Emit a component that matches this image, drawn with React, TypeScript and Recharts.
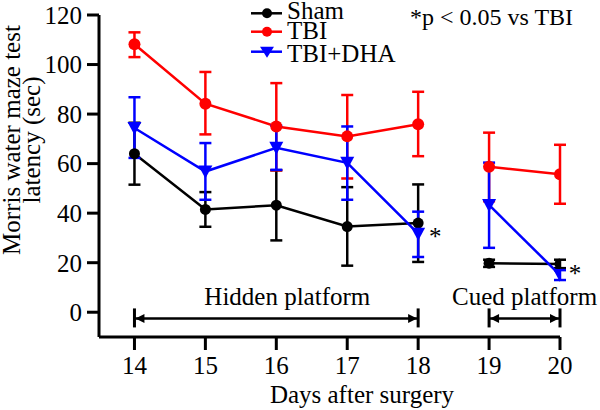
import React from 'react';
import { LineChart, Line, XAxis, YAxis, ErrorBar, ReferenceLine, ReferenceDot } from 'recharts';

const days = [14, 15, 16, 17, 18, 19, 20];
const xTicks = [14, 15, 16, 17, 18, 19, 20];
const yTicks = [0, 20, 40, 60, 80, 100, 120];

const sham = [64, 41.5, 43.2, 34.6, 36, 19.8, 19.5];
const shamLow = [51.5, 34.5, 29, 18.8, 20.3, 18.3, 17.8];
const shamHigh = [76.5, 48.5, 57.3, 50.5, 51.6, 21.2, 21.2];

const tbi = [108.2, 84.2, 75, 71, 75.9, 58.7, 55.7];
const tbiLow = [103, 71.8, 57.3, 54, 63, 44.8, 43.8];
const tbiHigh = [113, 97, 92.5, 87.7, 89, 72.5, 67.6];

const dha = [74.4, 56.8, 66.4, 60.3, 31.7, 43.3, 15];
const dhaLow = [62.3, 45.4, 57.5, 45.4, 22.3, 26, 13];
const dhaHigh = [86.8, 68.3, 75.3, 75, 40.6, 60.4, 17];

const hiddenDays = [14, 18];
const cuedDays = [19, 20];
const starPoints = [
  { day: 18, value: 31.7 },
  { day: 20, value: 15 },
];

const FONT = '"Liberation Serif", "Times New Roman", serif';
const BLACK = '#000000';
const RED = '#ff0000';
const BLUE = '#0000ff';

const inPhase = (d: number, range: number[]) => d >= range[0] && d <= range[1];

const data = days.map((d, i) => {
  const row: any = { day: d };
  const series: [string, number[], number[], number[]][] = [
    ['sham', sham, shamLow, shamHigh],
    ['tbi', tbi, tbiLow, tbiHigh],
    ['dha', dha, dhaLow, dhaHigh],
  ];
  series.forEach(([k, v, lo, hi]) => {
    const err = [v[i] - lo[i], hi[i] - v[i]];
    if (inPhase(d, hiddenDays)) {
      row[k + 'H'] = v[i];
      row[k + 'HErr'] = err;
    } else {
      row[k + 'H'] = null;
    }
    if (inPhase(d, cuedDays)) {
      row[k + 'C'] = v[i];
      row[k + 'CErr'] = err;
    } else {
      row[k + 'C'] = null;
    }
  });
  return row;
});

const circleDot = (color: string, r: number) => (p: any) => {
  if (p.value == null || p.cy == null || isNaN(p.cy)) return <g key={p.key} />;
  return <circle key={p.key} cx={p.cx} cy={p.cy} r={r} fill={color} stroke="none" />;
};

const triDot = (color: string) => (p: any) => {
  if (p.value == null || p.cy == null || isNaN(p.cy)) return <g key={p.key} />;
  const { cx, cy } = p;
  return (
    <polygon
      key={p.key}
      points={`${cx - 7},${cy - 6} ${cx + 7},${cy - 6} ${cx},${cy + 7}`}
      fill={color}
      stroke="none"
    />
  );
};

const arrowShape = (label: string, labelDx: number) => (p: any) => {
  const { x1, y1, x2 } = p;
  const y = y1;
  return (
    <g>
      <line x1={x1} y1={y} x2={x2} y2={y} stroke={BLACK} strokeWidth={2.5} />
      <line x1={x1} y1={y - 10} x2={x1} y2={y + 9} stroke={BLACK} strokeWidth={3} />
      <line x1={x2} y1={y - 10} x2={x2} y2={y + 9} stroke={BLACK} strokeWidth={3} />
      <polygon points={`${x1 + 1},${y} ${x1 + 10},${y - 4.5} ${x1 + 10},${y + 4.5}`} fill={BLACK} />
      <polygon points={`${x2 - 1},${y} ${x2 - 10},${y - 4.5} ${x2 - 10},${y + 4.5}`} fill={BLACK} />
      <text
        x={(x1 + x2) / 2 + labelDx}
        y={y - 13}
        textAnchor="middle"
        fontSize={25}
        fontFamily={FONT}
        fill={BLACK}
      >
        {label}
      </text>
    </g>
  );
};

const starShape = (dx: number, dy: number) => (p: any) => (
  <text x={p.cx + dx} y={p.cy + dy} textAnchor="middle" fontSize={25} fontFamily={FONT} fill={BLACK}>
    *
  </text>
);

const XTick = (p: any) => (
  <text x={p.x} y={p.y} dy={22} textAnchor="middle" fontSize={25} fontFamily={FONT} fill={BLACK}>
    {p.payload.value}
  </text>
);

const legendItems = [
  { name: 'Sham', color: BLACK, shape: 'circle', ly: 13.3, ty: 18.5 },
  { name: 'TBI', color: RED, shape: 'circle', ly: 31.7, ty: 39 },
  { name: 'TBI+DHA', color: BLUE, shape: 'tri', ly: 51.7, ty: 61.5 },
];

export default function App() {
  const errW = 6;
  return (
    <div style={{ position: 'absolute', left: 0, top: 0, width: 600, height: 410, background: '#fff' }}>
      <LineChart
        width={600}
        height={410}
        data={data}
        margin={{ top: 15, right: 40, bottom: 0, left: 0 }}
      >
        <XAxis
          dataKey="day"
          type="number"
          domain={[13.5, 20]}
          ticks={xTicks}
          allowDataOverflow
          height={73}
          tickSize={13}
          tick={<XTick />}
          axisLine={{ stroke: BLACK, strokeWidth: 3 }}
          tickLine={{ stroke: BLACK, strokeWidth: 3 }}
        />
        <YAxis
          type="number"
          domain={[-10, 120]}
          ticks={yTicks}
          allowDataOverflow
          width={99}
          tickSize={12}
          tickMargin={5}
          tick={{ fontSize: 25, fontFamily: FONT, fill: BLACK }}
          axisLine={{ stroke: BLACK, strokeWidth: 3 }}
          tickLine={{ stroke: BLACK, strokeWidth: 3 }}
        />
        <ReferenceLine
          segment={[{ x: 14, y: -2.5 }, { x: 18, y: -2.5 }]}
          shape={arrowShape('Hidden platform', 11)}
        />
        <ReferenceLine
          segment={[{ x: 19, y: -2.5 }, { x: 20, y: -2.5 }]}
          shape={arrowShape('Cued platform', 0)}
        />

        <Line dataKey="shamH" stroke={BLACK} strokeWidth={2.5} dot={circleDot(BLACK, 5.5)} isAnimationActive={false}>
          <ErrorBar dataKey="shamHErr" width={errW} stroke={BLACK} strokeWidth={2.5} direction="y" />
        </Line>
        <Line dataKey="shamC" stroke={BLACK} strokeWidth={2.5} dot={circleDot(BLACK, 5.5)} isAnimationActive={false}>
          <ErrorBar dataKey="shamCErr" width={errW} stroke={BLACK} strokeWidth={2.5} direction="y" />
        </Line>
        <Line dataKey="tbiH" stroke={RED} strokeWidth={2.5} dot={circleDot(RED, 6)} isAnimationActive={false}>
          <ErrorBar dataKey="tbiHErr" width={errW} stroke={RED} strokeWidth={2.5} direction="y" />
        </Line>
        <Line dataKey="tbiC" stroke={RED} strokeWidth={2.5} dot={circleDot(RED, 6)} isAnimationActive={false}>
          <ErrorBar dataKey="tbiCErr" width={errW} stroke={RED} strokeWidth={2.5} direction="y" />
        </Line>
        <Line dataKey="dhaH" stroke={BLUE} strokeWidth={2.5} dot={triDot(BLUE)} isAnimationActive={false}>
          <ErrorBar dataKey="dhaHErr" width={errW} stroke={BLUE} strokeWidth={2.5} direction="y" />
        </Line>
        <Line dataKey="dhaC" stroke={BLUE} strokeWidth={2.5} dot={triDot(BLUE)} isAnimationActive={false}>
          <ErrorBar dataKey="dhaCErr" width={errW} stroke={BLUE} strokeWidth={2.5} direction="y" />
        </Line>

        <ReferenceDot x={starPoints[0].day} y={starPoints[0].value} r={0} shape={starShape(17, 11)} />
        <ReferenceDot x={starPoints[1].day} y={starPoints[1].value} r={0} shape={starShape(15, 7)} />
      </LineChart>

      <svg
        width={600}
        height={410}
        style={{ position: 'absolute', left: 0, top: 0, pointerEvents: 'none' }}
      >
        {legendItems.map((it) => (
          <g key={it.name}>
            <line x1={251} y1={it.ly} x2={282} y2={it.ly} stroke={it.color} strokeWidth={2.5} />
            {it.shape === 'circle' ? (
              <circle cx={267} cy={it.ly} r={5} fill={it.color} />
            ) : (
              <polygon
                points={`${260},${it.ly - 5} ${274},${it.ly - 5} ${267},${it.ly + 6}`}
                fill={it.color}
              />
            )}
            <text x={287} y={it.ty} fontSize={25} fontFamily={FONT} fill={BLACK}>
              {it.name}
            </text>
          </g>
        ))}
        <text x={410} y={25} fontSize={24} fontFamily={FONT} fill={BLACK}>
          *p &lt; 0.05 vs TBI
        </text>
        <text
          transform="translate(20,140) rotate(-90)"
          textAnchor="middle"
          fontSize={25}
          fontFamily={FONT}
          fill={BLACK}
        >
          Morris water maze test
        </text>
        <text
          transform="translate(40,140) rotate(-90)"
          textAnchor="middle"
          fontSize={25}
          fontFamily={FONT}
          fill={BLACK}
        >
          latency (sec)
        </text>
        <text x={362} y={403} textAnchor="middle" fontSize={25} fontFamily={FONT} fill={BLACK}>
          Days after surgery
        </text>
      </svg>
    </div>
  );
}
